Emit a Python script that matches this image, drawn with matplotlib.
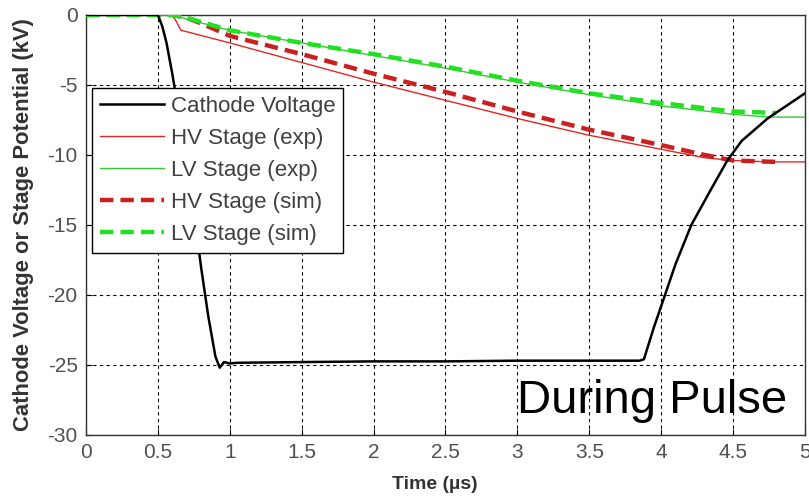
import matplotlib
matplotlib.use("Agg")
import matplotlib.pyplot as plt
import numpy as np

plt.rcParams['font.family'] = ['Liberation Sans', 'DejaVu Sans']

# Cathode voltage
cath_t = [0, 0.5, 0.53, 0.56, 0.6, 0.65, 0.7, 0.75, 0.8, 0.85, 0.9, 0.93, 0.96, 1.0, 1.05,
          1.5, 2.0, 2.5, 3.0, 3.5, 3.85, 3.88, 3.95, 4.0, 4.1, 4.21, 4.35, 4.46, 4.56, 4.74, 5.0]
cath_v = [0, 0, -0.8, -2.0, -4.2, -7.3, -10.5, -14.0, -18.0, -21.5, -24.4, -25.2, -24.8, -24.9, -24.85,
          -24.8, -24.75, -24.75, -24.7, -24.7, -24.7, -24.6, -22.3, -20.8, -17.8, -15.0, -12.4, -10.4, -9.0, -7.4, -5.6]

# HV stage (exp)
hv_exp_t = [0, 0.6, 0.63, 0.66, 0.7, 1.0, 1.5, 2.0, 2.5, 3.0, 3.5, 4.0, 4.3, 4.5, 4.75, 5.0]
hv_exp_v = [0, 0, -0.5, -1.1, -1.2, -2.0, -3.4, -4.8, -6.1, -7.4, -8.6, -9.6, -10.2, -10.4, -10.5, -10.5]

# LV stage (exp)
lv_exp_t = [0, 0.6, 0.7, 1.0, 1.5, 2.0, 2.5, 3.0, 3.5, 4.0, 4.5, 4.75, 5.0]
lv_exp_v = [0, 0, -0.3, -1.1, -2.0, -2.9, -3.8, -4.8, -5.7, -6.5, -7.1, -7.3, -7.3]

# HV stage (sim)
hv_sim_t = [0, 0.6, 0.7, 0.8, 1.0, 1.5, 2.0, 2.5, 3.0, 3.5, 4.0, 4.3, 4.5, 4.8]
hv_sim_v = [0, 0, -0.2, -0.6, -1.5, -2.8, -4.2, -5.5, -6.9, -8.2, -9.3, -10.0, -10.4, -10.5]

# LV stage (sim)
lv_sim_t = [0, 0.6, 0.7, 1.0, 1.5, 2.0, 2.5, 3.0, 3.5, 4.0, 4.5, 4.8]
lv_sim_v = [0, 0, -0.2, -1.1, -2.0, -2.8, -3.7, -4.7, -5.6, -6.3, -6.9, -7.0]

xticks = np.arange(0, 5.01, 0.5)
xtick_labels = ['0', '0.5', '1', '1.5', '2', '2.5', '3', '3.5', '4', '4.5', '5']
yticks = np.arange(-30, 0.1, 5)
ytick_labels = ['-30', '-25', '-20', '-15', '-10', '-5', '0']

fig = plt.figure(figsize=(8.09, 4.97), dpi=100)
ax = fig.add_axes([0.1063, 0.125, 0.8887, 0.845])

ax.plot(cath_t, cath_v, color='black', lw=1.8, label='Cathode Voltage', zorder=5)
ax.plot(hv_exp_t, hv_exp_v, color='#e02828', lw=1.0, label='HV Stage (exp)', zorder=3)
ax.plot(lv_exp_t, lv_exp_v, color='#33cc33', lw=1.0, label='LV Stage (exp)', zorder=3)
ax.plot(hv_sim_t, hv_sim_v, color='#cc1f1f', lw=3.2, ls=(0, (3, 1.6)), label='HV Stage (sim)', zorder=4)
ax.plot(lv_sim_t, lv_sim_v, color='#22e022', lw=3.2, ls=(0, (3, 1.6)), label='LV Stage (sim)', zorder=4)

ax.set_xlim(0, 5)
ax.set_ylim(-30, 0)
ax.set_xticks(xticks)
ax.set_xticklabels(xtick_labels)
ax.set_yticks(yticks)
ax.set_yticklabels(ytick_labels)
ax.tick_params(direction='in', labelsize=15, labelcolor='#505050', length=4, pad=6)
ax.grid(True, color='black', ls=(0, (3, 3)), lw=0.8)
for s in ax.spines.values():
    s.set_color('#333333')
    s.set_linewidth(1.0)

ax.set_xlabel('Time (µs)', fontsize=14, fontweight='bold', color='#333333')
ax.xaxis.set_label_coords(0.485, -0.097)
ax.set_ylabel('Cathode Voltage or Stage Potential (kV)', fontsize=15.8, fontweight='bold', color='#333333')
ax.yaxis.set_label_coords(-0.073, 0.5)

leg = ax.legend(loc='upper left', bbox_to_anchor=(0.008, 0.826), borderaxespad=0,
                fontsize=16, fancybox=False, framealpha=1, edgecolor='black',
                handlelength=2.9, labelspacing=0.5, borderpad=0.35, handletextpad=0.3)
leg.get_frame().set_linewidth(1.0)
for t in leg.get_texts():
    t.set_color('#404040')

ax.text(0.599, 0.052, 'During Pulse', transform=ax.transAxes, fontsize=34,
        ha='left', va='baseline', color='black', zorder=6)

fig.savefig('out.png', dpi=100)
